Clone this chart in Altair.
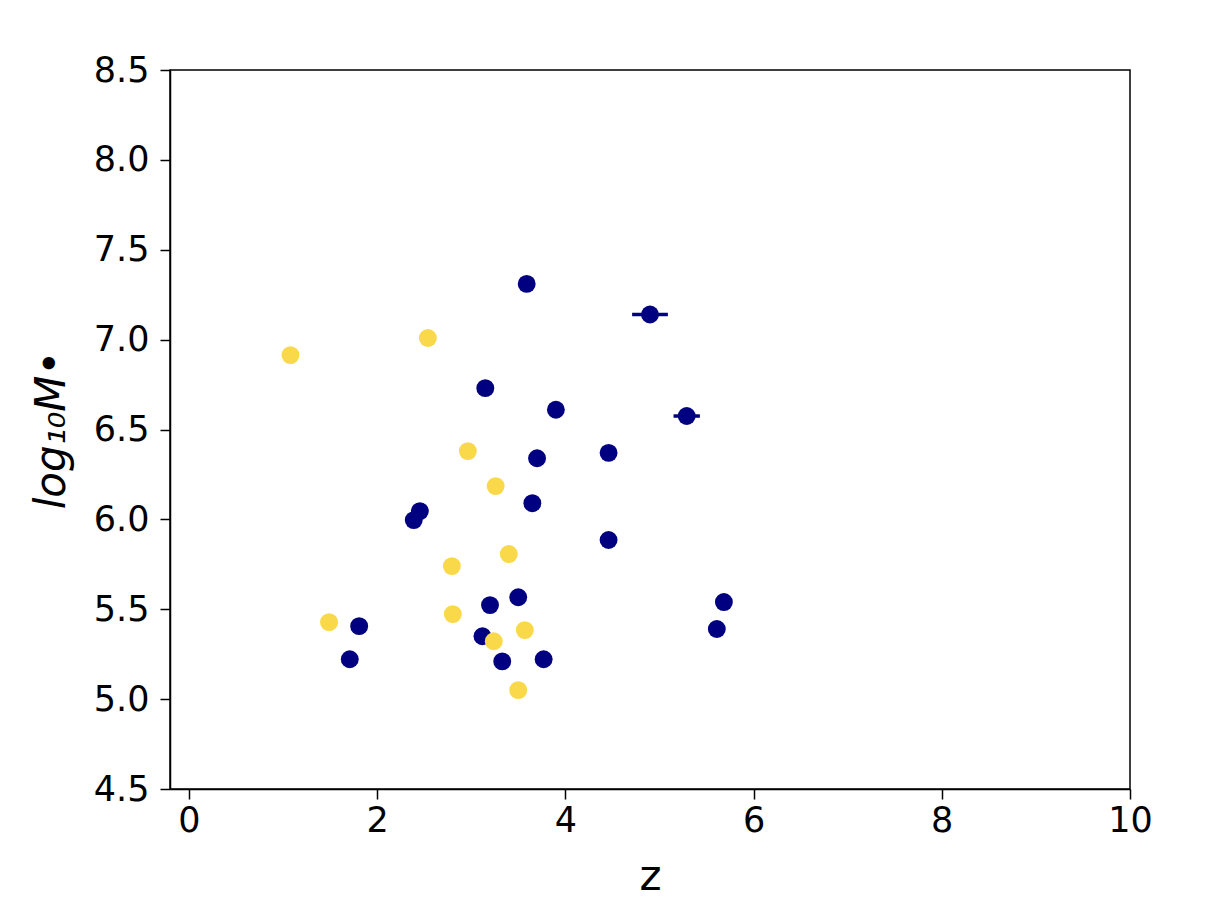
import altair as alt
import pandas as pd

# Navy series
navy_z = [3.59, 4.90, 5.29, 3.15, 3.90, 4.46, 3.70, 3.65, 2.455, 2.39,
          4.46, 3.50, 3.20, 5.685, 5.61, 1.81, 1.71, 3.12, 3.33, 3.77]
navy_m = [7.31, 7.14, 6.575, 6.73, 6.61, 6.37, 6.34, 6.09, 6.046, 5.996,
          5.885, 5.567, 5.523, 5.54, 5.39, 5.406, 5.222, 5.35, 5.21, 5.222]
navy_zerr = [0, 0.19, 0.14, 0, 0, 0, 0, 0, 0, 0,
             0, 0, 0, 0, 0, 0, 0, 0, 0, 0]

# Yellow series
yellow_z = [1.08, 2.54, 2.965, 3.26, 3.40, 2.795, 2.805, 1.49, 3.57, 3.24, 3.50]
yellow_m = [6.914, 7.009, 6.38, 6.185, 5.807, 5.74, 5.473, 5.428, 5.384, 5.322, 5.05]

x_ticks = [0, 2, 4, 6, 8, 10]
y_ticks = [4.5, 5.0, 5.5, 6.0, 6.5, 7.0, 7.5, 8.0, 8.5]

NAVY = "#000080"
YELLOW = "#F9D84A"

navy = pd.DataFrame({"z": navy_z, "m": navy_m, "err": navy_zerr})
navy["lo"] = navy["z"] - navy["err"]
navy["hi"] = navy["z"] + navy["err"]
errs = navy[navy["err"] > 0]
yellow = pd.DataFrame({"z": yellow_z, "m": yellow_m})

xscale = alt.Scale(domain=[-0.2, 10], nice=False, zero=False)
yscale = alt.Scale(domain=[4.5, 8.5], nice=False, zero=False)

xaxis = alt.Axis(values=x_ticks, format="d", title="z", grid=False,
                 labelFontSize=35, titleFontSize=42, titleFont="DejaVu Sans",
                 labelFont="DejaVu Sans", titleFontWeight="normal",
                 tickSize=10, tickWidth=1.5, tickColor="black", domainColor="black",
                 domainWidth=1.5, labelColor="black", titleColor="black",
                 labelPadding=4, titlePadding=18, labelFlush=False)
yaxis = alt.Axis(values=y_ticks, format=".1f", title="log₁₀M•", grid=False,
                 labelFontSize=35, titleFontSize=42, titleFont="DejaVu Sans",
                 labelFont="DejaVu Sans", titleFontWeight="normal",
                 titleFontStyle="italic",
                 tickSize=10, tickWidth=1.5, tickColor="black", domainColor="black",
                 domainWidth=1.5, labelColor="black", titleColor="black",
                 labelPadding=11, titlePadding=20, labelFlush=False)

err_layer = alt.Chart(errs).mark_rule(color=NAVY, strokeWidth=3.5).encode(
    x=alt.X("lo:Q", scale=xscale, axis=xaxis),
    x2="hi:Q",
    y=alt.Y("m:Q", scale=yscale, axis=yaxis),
)

navy_layer = alt.Chart(navy).mark_circle(color=NAVY, size=320, opacity=1).encode(
    x=alt.X("z:Q", scale=xscale, axis=xaxis),
    y=alt.Y("m:Q", scale=yscale, axis=yaxis),
)

yellow_layer = alt.Chart(yellow).mark_circle(color=YELLOW, size=320, opacity=1).encode(
    x=alt.X("z:Q", scale=xscale, axis=xaxis),
    y=alt.Y("m:Q", scale=yscale, axis=yaxis),
)

chart = alt.layer(err_layer, navy_layer, yellow_layer).properties(
    width=960, height=719,
    background="white",
    autosize=alt.AutoSizeParams(type="none"),
    padding={"left": 162, "top": 62, "right": 60, "bottom": 110},
).configure_view(stroke="black", strokeWidth=1.5)

chart.save("out.html", embed_options={"renderer": "svg", "actions": False})
